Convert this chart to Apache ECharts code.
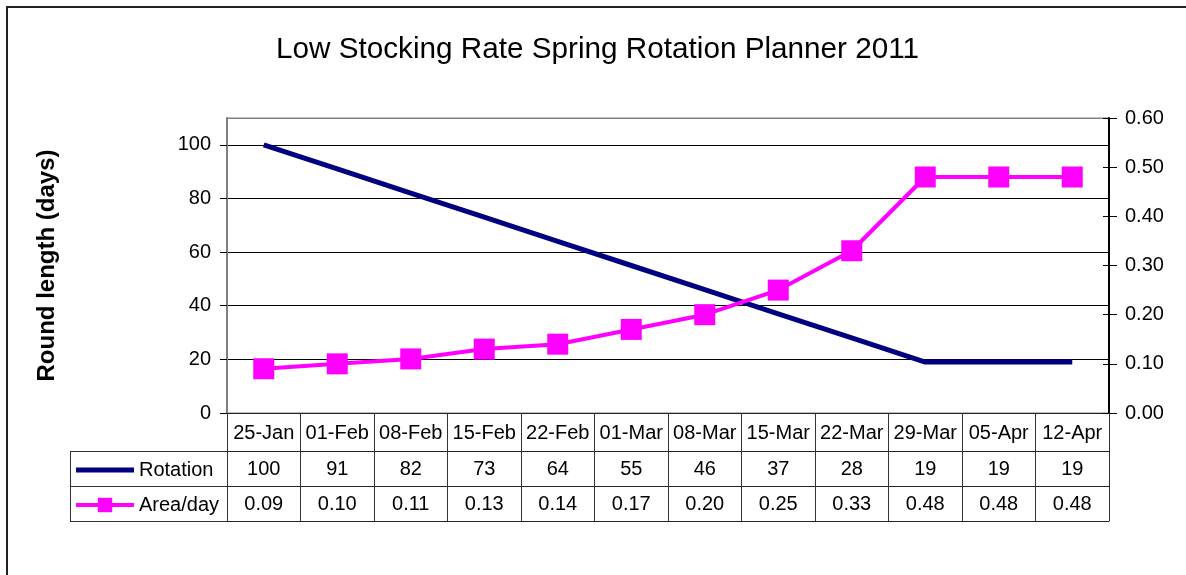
<!DOCTYPE html>
<html>
<head>
<meta charset="utf-8">
<script src="https://cdn.jsdelivr.net/npm/echarts@6/dist/echarts.min.js"></script>
<style>
  html, body { margin: 0; padding: 0; background: #fff; }
  #chart { width: 1186px; height: 575px; }
</style>
</head>
<body>
<div id="chart"></div>
<script>
const categories = ['25-Jan', '01-Feb', '08-Feb', '15-Feb', '22-Feb', '01-Mar', '08-Mar', '15-Mar', '22-Mar', '29-Mar', '05-Apr', '12-Apr']
const rotation = [100, 91, 82, 73, 64, 55, 46, 37, 28, 19, 19, 19]
const areaPerDay = [0.09, 0.10, 0.11, 0.13, 0.14, 0.17, 0.20, 0.25, 0.33, 0.48, 0.48, 0.48]
const leftTicks = { min: 0, max: 110, interval: 20 }
const rightTicks = { min: 0, max: 0.6, interval: 0.1 }

const font = 'Liberation Sans, Arial, sans-serif'
// layout of the plot and the data table under it
const gridLeft = 227
const gridRight = 77
const gridTop = 118
const gridBottom = 162
const plotBottom = 575 - gridBottom
const rowOffsets = [0, 38, 73, 108]
const tableLeft = 70

const myChart = echarts.init(document.getElementById('chart'))

const tableAxis = (offset, tickLen, labels) => ({
  type: 'category',
  data: categories,
  position: 'bottom',
  offset: offset,
  boundaryGap: true,
  axisLine: { show: true, onZero: false, lineStyle: { color: '#222', width: 1 } },
  axisTick: { show: tickLen > 0, interval: 0, length: tickLen, lineStyle: { color: '#333' } },
  axisLabel: {
    show: !!labels,
    interval: 0,
    margin: offset === 0 ? 10 : 8,
    fontSize: 20,
    fontFamily: font,
    color: '#000',
    formatter: labels ? (v, i) => labels[i] : undefined,
  },
})

const lineY = (y) => Math.round(y) + 0.5

const option = {
  backgroundColor: '#fff',
  animation: false,
  title: {
    text: 'Low Stocking Rate Spring Rotation Planner 2011',
    left: 271,
    top: 30,
    textStyle: { fontFamily: font, fontSize: 29.7, fontWeight: 'normal', color: '#000' },
  },
  grid: {
    left: gridLeft,
    right: gridRight,
    top: gridTop,
    bottom: gridBottom,
    show: true,
    borderColor: '#808080',
    borderWidth: 1,
  },
  legend: {
    orient: 'vertical',
    left: 74,
    top: plotBottom + rowOffsets[1] + 9,
    padding: 0,
    itemWidth: 58,
    itemHeight: 18,
    itemGap: 15,
    lineStyle: { width: 4 },
    textStyle: { fontSize: 20, fontFamily: font, color: '#000' },
    data: [
      { name: 'Rotation', icon: 'path://M0,0H58V5H0Z' },
      { name: 'Area/day' },
    ],
  },
  xAxis: [
    tableAxis(rowOffsets[0], rowOffsets[1], categories),
    tableAxis(rowOffsets[1], rowOffsets[2] - rowOffsets[1], rotation.map(String)),
    tableAxis(rowOffsets[2], rowOffsets[3] - rowOffsets[2], areaPerDay.map((v) => v.toFixed(2))),
    tableAxis(rowOffsets[3], 0, null),
  ],
  yAxis: [
    {
      type: 'value',
      position: 'left',
      min: leftTicks.min,
      max: leftTicks.max,
      interval: leftTicks.interval,
      name: 'Round length (days)',
      nameLocation: 'middle',
      nameGap: 168,
      nameTextStyle: { fontSize: 24, fontWeight: 'bold', fontFamily: font, color: '#000' },
      axisLine: { show: true, lineStyle: { color: '#808080', width: 2 } },
      axisTick: { show: true, length: 7, lineStyle: { color: '#000' } },
      axisLabel: { fontSize: 20, fontFamily: font, color: '#000', margin: 16, showMaxLabel: false },
      // last line is the top of the plot area, keep it grey
      splitLine: {
        show: true,
        lineStyle: { color: ['#000', '#000', '#000', '#000', '#000', '#000', '#808080'], width: 1 },
      },
    },
    {
      type: 'value',
      position: 'right',
      min: rightTicks.min,
      max: rightTicks.max,
      interval: rightTicks.interval,
      axisLine: { show: true, lineStyle: { color: '#000', width: 2 } },
      axisTick: { show: true, length: 8, lineStyle: { color: '#000' } },
      axisLabel: {
        fontSize: 20,
        fontFamily: font,
        color: '#000',
        margin: 16,
        formatter: (v) => v.toFixed(2),
      },
      splitLine: { show: false },
    },
    {
      // inner half of the cross ticks on the right axis
      type: 'value',
      position: 'right',
      min: rightTicks.min,
      max: rightTicks.max,
      interval: rightTicks.interval,
      axisLine: { show: false },
      axisTick: { show: true, inside: true, length: 6, lineStyle: { color: '#000' } },
      axisLabel: { show: false },
      splitLine: { show: false },
    },
  ],
  series: [
    {
      name: 'Rotation',
      type: 'line',
      xAxisIndex: 0,
      yAxisIndex: 0,
      data: rotation,
      symbol: 'none',
      color: '#000080',
      lineStyle: { color: '#000080', width: 5 },
    },
    {
      name: 'Area/day',
      type: 'line',
      xAxisIndex: 0,
      yAxisIndex: 1,
      data: areaPerDay,
      symbol: 'rect',
      symbolSize: 21,
      color: '#ff00ff',
      itemStyle: { color: '#ff00ff' },
      lineStyle: { color: '#ff00ff', width: 4 },
    },
  ],
  graphic: [
    {
      type: 'rect',
      shape: { x: 7, y: 7, width: 1200, height: 600 },
      style: { fill: 'none', stroke: '#222', lineWidth: 2 },
      silent: true,
    },
    // legend column of the data table
    ...[1, 2, 3].map((r) => ({
      type: 'line',
      shape: { x1: tableLeft, y1: lineY(plotBottom + rowOffsets[r]), x2: gridLeft, y2: lineY(plotBottom + rowOffsets[r]) },
      style: { stroke: '#333', lineWidth: 1 },
      silent: true,
    })),
    {
      type: 'line',
      shape: { x1: tableLeft + 0.5, y1: plotBottom + rowOffsets[1], x2: tableLeft + 0.5, y2: plotBottom + rowOffsets[3] },
      style: { stroke: '#333', lineWidth: 1 },
      silent: true,
    },
  ],
}

myChart.setOption(option)
</script>
</body>
</html>
